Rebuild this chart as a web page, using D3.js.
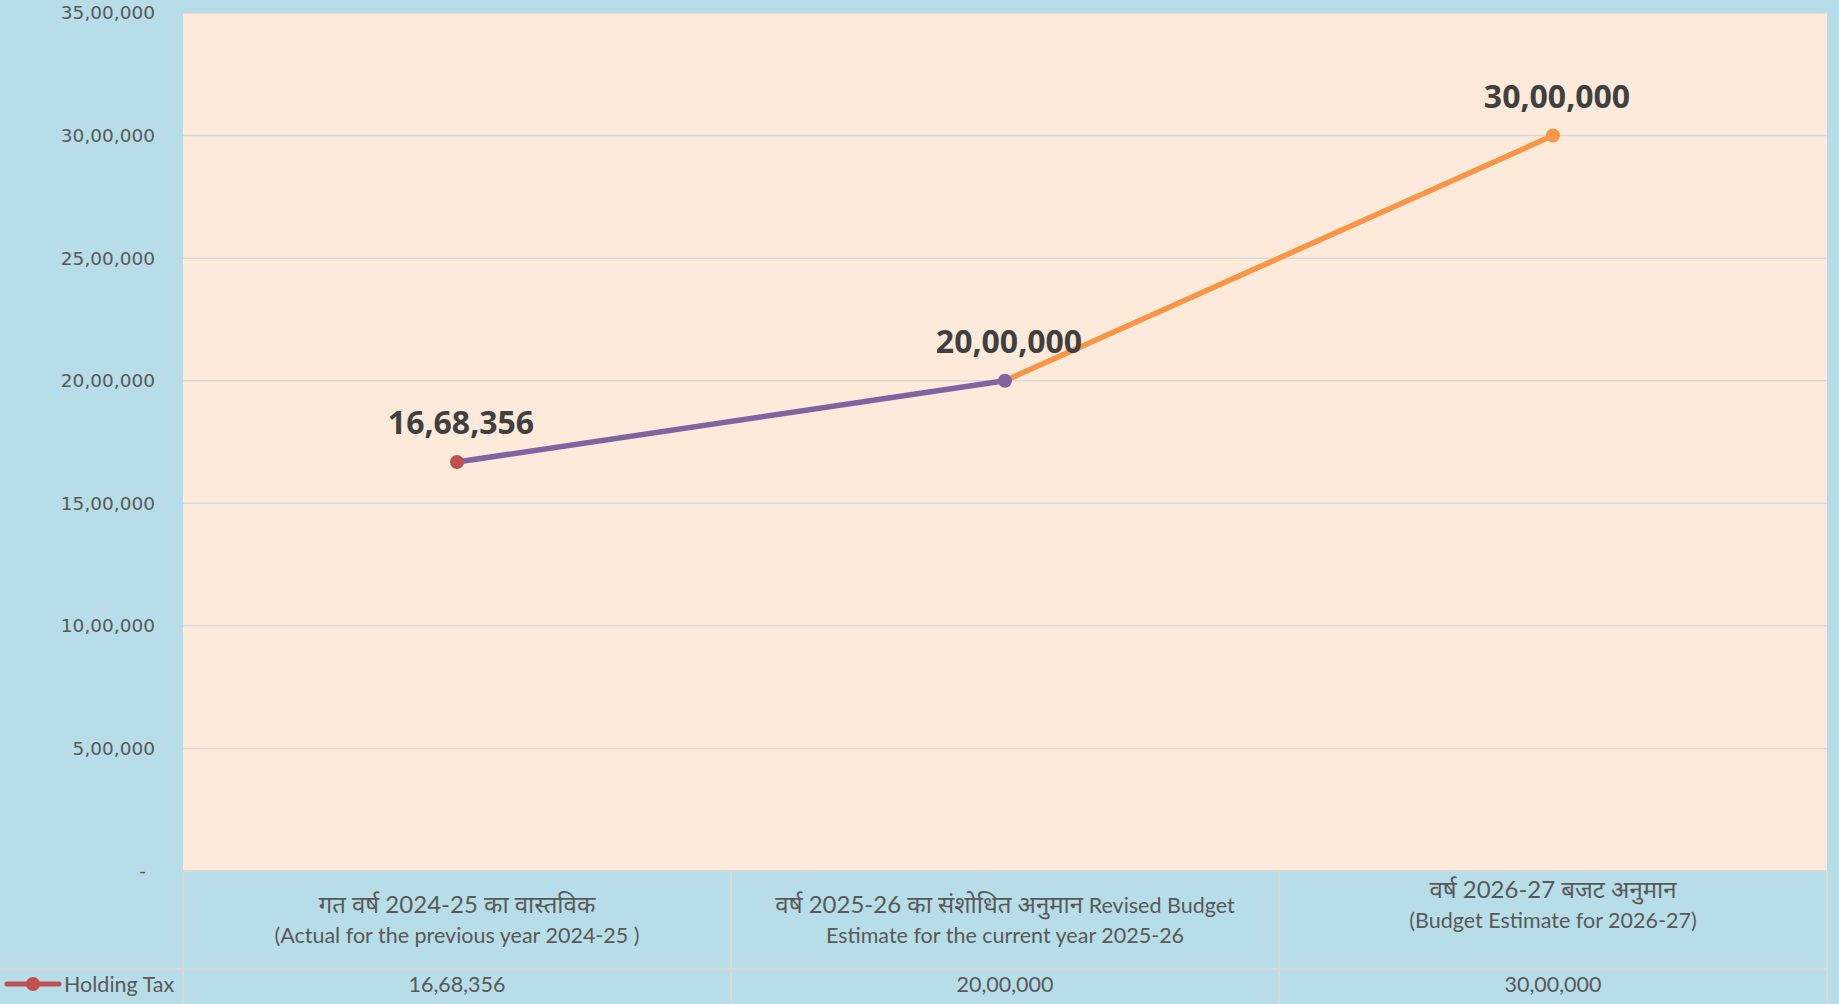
<!DOCTYPE html>
<html>
<head>
<meta charset="utf-8">
<script src="https://cdn.jsdelivr.net/npm/d3@7"></script>
<style>
  body { margin: 0; background: #b7dde8; }
  svg { display: block; }
  .tick-label { font-family: "DejaVu Sans", sans-serif; font-size: 18.5px; fill: #595959; }
  .table-text { font-family: Lato, "Noto Sans", sans-serif; font-size: 21.5px; fill: #595959; }
  .deva { font-size: 24px; }
  .data-label { font-family: "Open Sans", sans-serif; font-size: 32px; font-weight: bold; fill: #404040; }
</style>
</head>
<body>
<svg id="chart" width="1839" height="1004"></svg>
<script>
  // data
  var categories = ["2024-25", "2025-26", "2026-27"];
  var categoryLines = [
    ["गत वर्ष 2024-25 का वास्तविक", "(Actual for the previous year 2024-25 )"],
    ["वर्ष 2025-26 का संशोधित अनुमान Revised Budget", "Estimate for the current year 2025-26"],
    ["वर्ष 2026-27 बजट अनुमान", "(Budget Estimate for  2026-27)", ""]
  ];
  var seriesName = "Holding Tax";
  var values = [1668356, 2000000, 3000000];
  var yTicks = [0, 500000, 1000000, 1500000, 2000000, 2500000, 3000000, 3500000];
  var pointColors = ["#c0504d", "#8064a2", "#f79646"];

  var svg = d3.select("#chart"),
    width = +svg.attr("width"),
    height = +svg.attr("height");

  var plot = {left: 183, right: 1827, top: 13, bottom: 871};
  var headerBottom = 969;

  // indian style grouping 16,68,356
  function inr(v) {
    var s = String(Math.round(v));
    if (s.length <= 3) return s;
    var last = s.slice(-3), rest = s.slice(0, -3);
    rest = rest.replace(/\B(?=(\d{2})+(?!\d))/g, ",");
    return rest + "," + last;
  }

  var x = d3.scaleBand().domain(categories).range([plot.left, plot.right]).padding(0);
  var y = d3.scaleLinear().domain([0, 3500000]).range([plot.bottom, plot.top]);
  var cx = function(c) { return x(c) + x.bandwidth() / 2; };

  svg.append("rect").attr("width", width).attr("height", height).attr("fill", "#b7dde8");
  svg.append("rect")
    .attr("x", plot.left).attr("y", plot.top)
    .attr("width", plot.right - plot.left).attr("height", plot.bottom - plot.top)
    .attr("fill", "#fdeada");

  // gridlines
  svg.append("g").selectAll("line")
    .data(yTicks.filter(function(d) { return d > 0; }))
    .join("line")
    .attr("x1", plot.left).attr("x2", plot.right)
    .attr("y1", function(d) { return y(d); }).attr("y2", function(d) { return y(d); })
    .attr("stroke", "#d9d9d9").attr("stroke-width", 1.5);

  // y axis
  var yAxis = d3.axisLeft(y).tickValues(yTicks).tickSize(0).tickPadding(0)
    .tickFormat(function(d) { return d === 0 ? "-" : inr(d); });
  var yg = svg.append("g").attr("transform", "translate(155,0)").call(yAxis);
  yg.select(".domain").remove();
  yg.selectAll("text").attr("class", "tick-label").attr("font-family", null).attr("font-size", null).attr("fill", null)
    .attr("dx", function(d) { return d === 0 ? -9 : 0; });

  // table grid
  var tg = svg.append("g").attr("stroke", "#d9d9d9").attr("stroke-width", 2);
  tg.append("line").attr("x1", plot.left).attr("x2", plot.right).attr("y1", plot.bottom).attr("y2", plot.bottom);
  tg.append("line").attr("x1", 0).attr("x2", plot.right).attr("y1", headerBottom).attr("y2", headerBottom);
  tg.selectAll(".vline")
    .data(categories.concat(["end"]))
    .join("line")
    .attr("class", "vline")
    .attr("x1", function(d) { return d === "end" ? plot.right : x(d); })
    .attr("x2", function(d) { return d === "end" ? plot.right : x(d); })
    .attr("y1", plot.bottom).attr("y2", height);

  // category headers (devanagari part drawn a bit larger, like the original font)
  var lineH = 30;
  var headMid = (plot.bottom + headerBottom) / 2;
  categories.forEach(function(c, i) {
    var lines = categoryLines[i];
    var t = svg.append("text").attr("class", "table-text").attr("text-anchor", "middle");
    lines.forEach(function(l, j) {
      var ts = t.append("tspan")
        .attr("x", cx(c))
        .attr("y", headMid + (j - (lines.length - 1) / 2) * lineH)
        .attr("dy", "0.35em");
      var m = l.match(/^(.*[\u0900-\u097F])(.*)$/);
      if (m) {
        ts.append("tspan").attr("class", "deva").text(m[1]);
        if (m[2]) ts.append("tspan").text(m[2]);
      } else {
        ts.text(l);
      }
    });
  });

  // data row
  var rowMid = (headerBottom + height) / 2 - 2.5;
  svg.append("g").selectAll("text")
    .data(values)
    .join("text")
    .attr("class", "table-text")
    .attr("text-anchor", "middle")
    .attr("x", function(d, i) { return cx(categories[i]); })
    .attr("y", rowMid).attr("dy", "0.35em")
    .text(function(d) { return inr(d); });

  // legend key
  svg.append("line").attr("x1", 7).attr("x2", 59).attr("y1", rowMid).attr("y2", rowMid)
    .attr("stroke", pointColors[0]).attr("stroke-width", 5).attr("stroke-linecap", "round");
  svg.append("circle").attr("cx", 33).attr("cy", rowMid).attr("r", 7).attr("fill", pointColors[0]);
  svg.append("text").attr("class", "table-text").attr("x", 64).attr("y", rowMid).attr("dy", "0.35em").text(seriesName);

  // line segments, each colored by its end point
  var pts = values.map(function(v, i) { return {x: cx(categories[i]), y: y(v), v: v, color: pointColors[i]}; });
  var line = d3.line().x(function(d) { return d.x; }).y(function(d) { return d.y; });
  svg.append("g").selectAll("path")
    .data(d3.pairs(pts))
    .join("path")
    .attr("d", function(d) { return line(d); })
    .attr("fill", "none")
    .attr("stroke", function(d) { return d[1].color; })
    .attr("stroke-width", 5.5)
    .attr("stroke-linecap", "round");

  // markers
  svg.append("g").selectAll("circle")
    .data(pts)
    .join("circle")
    .attr("cx", function(d) { return d.x; })
    .attr("cy", function(d) { return d.y; })
    .attr("r", 7)
    .attr("fill", function(d) { return d.color; });

  // data labels
  svg.append("g").selectAll("text")
    .data(pts)
    .join("text")
    .attr("class", "data-label")
    .attr("text-anchor", "middle")
    .attr("x", function(d) { return d.x + 4; })
    .attr("y", function(d) { return d.y - 28; })
    .text(function(d) { return inr(d.v); });
</script>
</body>
</html>
